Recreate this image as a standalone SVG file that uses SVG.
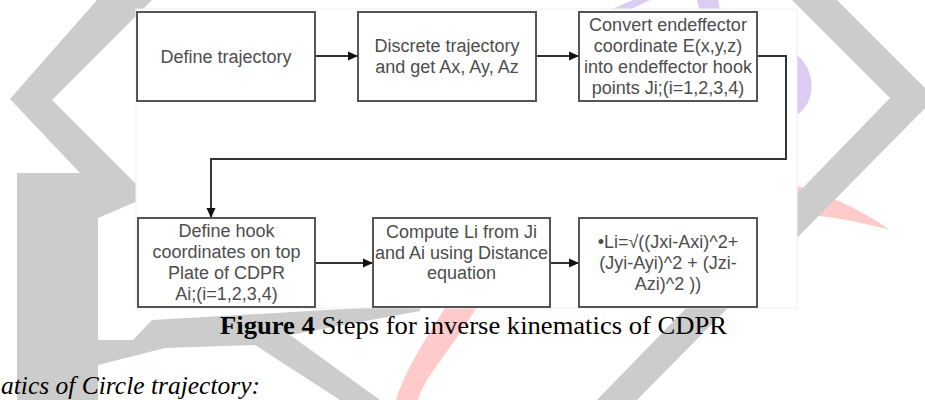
<svg xmlns="http://www.w3.org/2000/svg" width="925" height="400" viewBox="0 0 925 400">
<style>
.wm{fill:#cccccc}
.pk{fill:#ffcaca}
.pu{fill:#dccbf3}
.box{fill:#ffffff;stroke:#555555;stroke-width:2}
.t{font-family:"Liberation Sans",Arial,sans-serif;font-size:18px;fill:#4d4d4d;text-anchor:middle}
.c{fill:none;stroke:#333333;stroke-width:2}
.cap{font-family:"Liberation Serif","Times New Roman",serif;font-size:26px;fill:#000000}
</style>
<defs>
<marker id="ah" viewBox="0 0 10 10" refX="10" refY="5" markerWidth="10" markerHeight="10" markerUnits="userSpaceOnUse" orient="auto">
<path d="M0,0.5 L10,5 L0,9.5 Z" fill="#111111"/>
</marker>
</defs>
<rect width="925" height="400" fill="#ffffff"/>
<g id="watermark">
<path class="pu" d="M603,13 L623,13 L650,0 L633,0 Z"/>
<path class="pu" d="M697,0 L718,0 L721,14 L700,14 Z"/>
<path class="pu" d="M797,55 C815,70 818,100 797,115 Z"/>
<path class="pk" d="M797,186 C830,195 865,212 890,230 C860,222 830,216 797,214 Z"/>
<path class="pk" d="M445,308 L476,308 C455,345 425,375 418,400 L396,400 C405,370 425,340 445,308 Z"/>
<path class="wm" d="M97,0 L152,0 L52,100 L140,188 L140,200 L98,218 L98,173 L80,173 L10,99 Z"/>
<rect class="wm" x="17" y="173" width="81" height="227"/>
<path class="wm" d="M98,340 L133,340 L152,320 L380,307 L420,305 L420,311 L290,335 L380,400 L340,400 L255,345 L165,348 L98,365 Z"/>
<path class="wm" d="M792,0 L837,0 L935,98 L637,400 L597,400 L890,98 Z"/>
</g>
<rect x="136" y="9" width="661" height="299" fill="#ffffff" stroke="#f0f0f0" stroke-width="1"/>
<g id="connectors">
<path class="c" d="M315,56 L358,56" marker-end="url(#ah)"/>
<path class="c" d="M536,56 L579,56" marker-end="url(#ah)"/>
<path class="c" d="M757,56 L786,56 L786,159 L211,159 L211,218" marker-end="url(#ah)"/>
<path class="c" d="M315,263 L373,263" marker-end="url(#ah)"/>
<path class="c" d="M550,263 L579,263" marker-end="url(#ah)"/>
</g>
<g id="n1">
<rect class="box" x="137" y="12" width="178" height="89"/>
<text class="t" x="226" y="63">Define trajectory</text>
</g>
<g id="n2">
<rect class="box" x="358" y="12" width="178" height="89"/>
<text class="t" x="447" y="52">Discrete trajectory</text>
<text class="t" x="447" y="73">and get Ax, Ay, Az</text>
</g>
<g id="n3">
<rect class="box" x="579" y="12" width="178" height="89"/>
<text class="t" x="668" y="31">Convert endeffector</text>
<text class="t" x="668" y="52">coordinate E(x,y,z)</text>
<text class="t" x="668" y="73">into endeffector hook</text>
<text class="t" x="668" y="94">points Ji;(i=1,2,3,4)</text>
</g>
<g id="n4">
<rect class="box" x="138" y="218" width="177" height="89"/>
<text class="t" x="226.5" y="237">Define hook</text>
<text class="t" x="226.5" y="258">coordinates on top</text>
<text class="t" x="226.5" y="279">Plate of CDPR</text>
<text class="t" x="226.5" y="300">Ai;(i=1,2,3,4)</text>
</g>
<g id="n5">
<rect class="box" x="373" y="218" width="177" height="89"/>
<text class="t" x="461.5" y="238">Compute Li from Ji</text>
<text class="t" x="461.5" y="259">and Ai using Distance</text>
<text class="t" x="461.5" y="279">equation</text>
</g>
<g id="n6">
<rect class="box" x="579" y="218" width="178" height="89"/>
<text class="t" x="668" y="248">•Li=√((Jxi-Axi)^2+</text>
<text class="t" x="668" y="269">(Jyi-Ayi)^2 + (Jzi-</text>
<text class="t" x="668" y="290">Azi)^2 ))</text>
</g>
<text class="cap" x="220" y="334" textLength="507" lengthAdjust="spacingAndGlyphs"><tspan font-weight="bold">Figure 4</tspan> Steps for inverse kinematics of CDPR</text>
<text class="cap" x="1" y="394" font-style="italic" textLength="259" lengthAdjust="spacingAndGlyphs">atics of Circle trajectory:</text>
</svg>
